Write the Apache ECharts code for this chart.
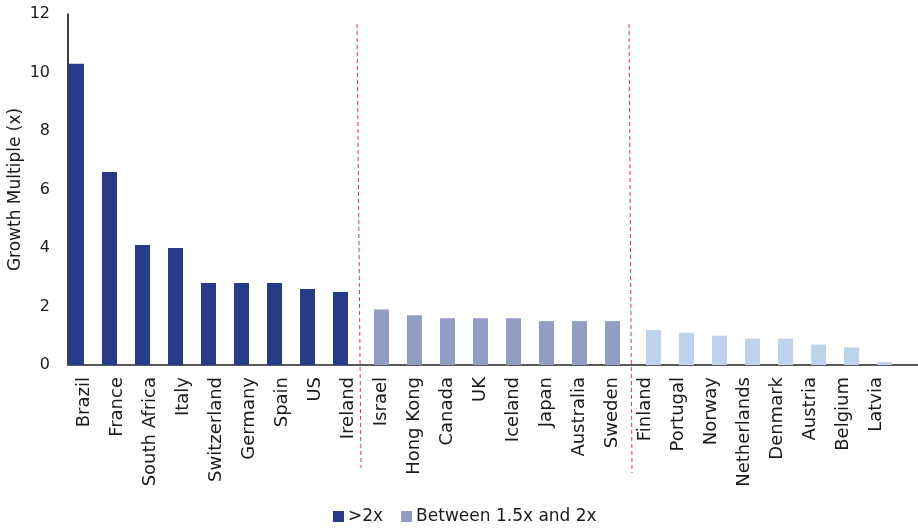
<!DOCTYPE html>
<html>
<head>
<meta charset="utf-8">
<script src="https://cdn.jsdelivr.net/npm/echarts@6/dist/echarts.min.js"></script>
<style>
  html, body { margin: 0; padding: 0; background: #ffffff; }
  #chart { width: 918px; height: 528px; }
</style>
</head>
<body>
<div id="chart"></div>
<script>
// Countries, ordered by growth multiple
const countries = [
  'Brazil', 'France', 'South Africa', 'Italy', 'Switzerland', 'Germany', 'Spain', 'US', 'Ireland',
  'Israel', 'Hong Kong', 'Canada', 'UK', 'Iceland', 'Japan', 'Australia', 'Sweden',
  'Finland', 'Portugal', 'Norway', 'Netherlands', 'Denmark', 'Austria', 'Belgium', 'Latvia'
];

// Growth multiple (x) per group; null where a country belongs to another group
const above2x = [10.3, 6.6, 4.1, 4.0, 2.8, 2.8, 2.8, 2.6, 2.5,
  null, null, null, null, null, null, null, null,
  null, null, null, null, null, null, null, null];
const between15and2x = [null, null, null, null, null, null, null, null, null,
  1.9, 1.7, 1.6, 1.6, 1.6, 1.5, 1.5, 1.5,
  null, null, null, null, null, null, null, null];
const below15x = [null, null, null, null, null, null, null, null, null,
  null, null, null, null, null, null, null, null,
  1.2, 1.1, 1.0, 0.9, 0.9, 0.7, 0.6, 0.1];

const yTicks = [0, 2, 4, 6, 8, 10, 12];
const legendNames = ['>2x', 'Between 1.5x and 2x'];

const FONT = 'DejaVu Sans';
const chart = echarts.init(document.getElementById('chart'), null, { renderer: 'canvas' });

const barBase = { type: 'bar', barWidth: 15, barGap: '-46.7%', barCategoryGap: 0, xAxisIndex: 0, yAxisIndex: 0 };

chart.setOption({
  animation: false,
  backgroundColor: '#ffffff',
  grid: [
    { left: 68, right: 25, top: 14, bottom: 163, containLabel: false, outerBoundsMode: 'none' },
    { left: 68, right: 0, top: 14, bottom: 163, containLabel: false, outerBoundsMode: 'none' }
  ],
  legend: {
    data: legendNames,
    left: 333,
    top: 508,
    padding: 0,
    itemWidth: 11,
    itemHeight: 11,
    itemGap: 18,
    icon: 'rect',
    textStyle: { fontFamily: FONT, fontSize: 17, color: '#1a1a1a', padding: [0, 0, 0, -1] }
  },
  xAxis: [
    {
      type: 'category',
      gridIndex: 0,
      data: countries,
      axisLine: { show: true, onZero: false, lineStyle: { color: '#595959', width: 2 } },
      axisTick: { show: false },
      axisLabel: {
        rotate: 90,
        interval: 0,
        margin: 12,
        fontFamily: FONT,
        fontSize: 18,
        color: '#1a1a1a'
      }
    },
    {
      // baseline continuing to the right edge
      type: 'value',
      gridIndex: 1,
      min: 0,
      max: 1,
      axisLine: { show: true, onZero: false, lineStyle: { color: '#595959', width: 2 } },
      axisTick: { show: false },
      axisLabel: { show: false },
      splitLine: { show: false }
    }
  ],
  yAxis: [
    {
      type: 'value',
      gridIndex: 0,
      min: yTicks[0],
      max: yTicks[yTicks.length - 1],
      interval: 2,
      name: 'Growth Multiple (x)',
      nameLocation: 'middle',
      nameGap: 44,
      nameRotate: 90,
      nameMoveOverlap: false,
      nameTextStyle: { fontFamily: FONT, fontSize: 17, color: '#1a1a1a' },
      axisLine: { show: true, onZero: false, lineStyle: { color: '#000000', width: 1.5 } },
      axisTick: { show: false },
      splitLine: { show: false },
      axisLabel: { fontFamily: FONT, fontSize: 16, color: '#1a1a1a', margin: 18 }
    },
    {
      type: 'value',
      gridIndex: 1,
      show: false
    }
  ],
  series: [
    Object.assign({}, barBase, { name: '>2x', data: above2x, itemStyle: { color: '#283B86' } }),
    Object.assign({}, barBase, { name: 'Between 1.5x and 2x', data: between15and2x, itemStyle: { color: '#939DC3' } }),
    Object.assign({}, barBase, { name: 'Below 1.5x', data: below15x, itemStyle: { color: '#BED3EB' } })
  ]
});

// Dashed separators between the three groups, placed from the category axis
function bandCenter(name) {
  return chart.convertToPixel({ xAxisIndex: 0 }, name);
}
const b1 = (bandCenter('Ireland') + bandCenter('Israel')) / 2;
const b2 = (bandCenter('Sweden') + bandCenter('Finland')) / 2;
const dash = { stroke: '#E0344F', lineWidth: 1, lineDash: [4, 3] };
chart.setOption({
  graphic: [
    { type: 'line', shape: { x1: b1 - 8, y1: 24, x2: b1 - 4, y2: 468 }, style: dash, silent: true },
    { type: 'line', shape: { x1: b2, y1: 24, x2: b2 + 3, y2: 473 }, style: dash, silent: true }
  ]
});
</script>
</body>
</html>
